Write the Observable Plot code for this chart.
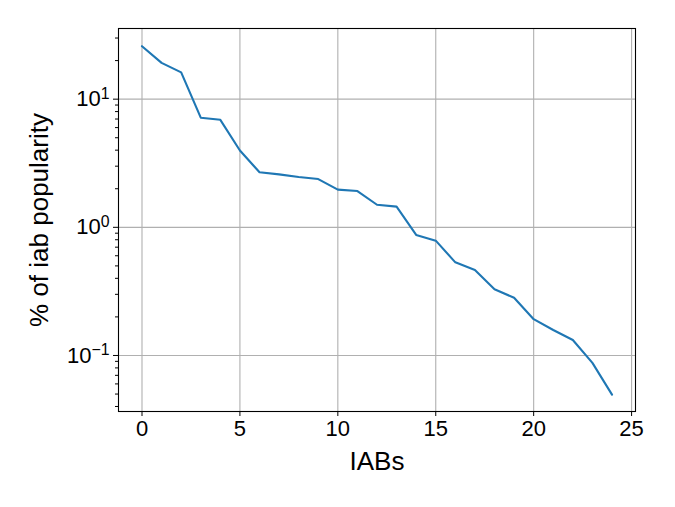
<!DOCTYPE html>
<html>
<head>
<meta charset="utf-8">
<script src="https://cdn.jsdelivr.net/npm/d3@7"></script>
<script src="https://cdn.jsdelivr.net/npm/@observablehq/plot@0.6"></script>
<style>
  html, body { margin: 0; padding: 0; background: #fff; }
</style>
</head>
<body>
<div id="chart"></div>
<script>
const iabs = [0,1,2,3,4,5,6,7,8,9,10,11,12,13,14,15,16,17,18,19,20,21,22,23,24];
const popularity = [25.9,19.2,16.2,7.17,6.9,3.98,2.69,2.59,2.47,2.38,1.97,1.92,1.50,1.45,0.873,0.787,0.533,0.465,0.329,0.282,0.192,0.158,0.132,0.0875,0.0495];
const xTicks = [0,5,10,15,20,25];
const yMajor = [0.1,1,10];
const yExponents = ["\u22121","0","1"];
const yMinor = [0.04,0.05,0.06,0.07,0.08,0.09,0.2,0.3,0.4,0.5,0.6,0.7,0.8,0.9,2,3,4,5,6,7,8,9,20,30];

const data = iabs.map((x, i) => ({x, y: popularity[i]}));
const font = "'Liberation Sans', Arial, Helvetica, sans-serif";

const chart = Plot.plot({
  width: 675,
  height: 507,
  marginLeft: 118,
  marginRight: 40,
  marginTop: 28,
  marginBottom: 96,
  style: {fontFamily: font, fontSize: "22px", color: "black", background: "white"},
  x: {domain: [-1.2, 25.2]},
  y: {type: "log", domain: [0.03655, 35.6]},
  marks: [
    Plot.gridX(xTicks, {stroke: "#b0b0b0", strokeOpacity: 1, strokeWidth: 1.1}),
    Plot.gridY(yMajor, {stroke: "#b0b0b0", strokeOpacity: 1, strokeWidth: 1.1}),
    Plot.axisX(xTicks, {tickSize: 5, tickPadding: 4, tickFormat: d => String(d), label: "IABs", labelAnchor: "center", labelArrow: "none", labelOffset: 58}),
    Plot.axisY(yMajor, {tickSize: 5, tickPadding: 4, tickFormat: d => "10", label: "% of iab popularity", labelAnchor: "center", labelArrow: "none", labelOffset: 89}),
    Plot.axisY(yMinor, {tickSize: 3, tickFormat: () => "", label: null}),
    Plot.line(data, {x: "x", y: "y", stroke: "#1f77b4", strokeWidth: 2.1}),
    Plot.frame({stroke: "black", strokeWidth: 1.1})
  ]
});
document.getElementById("chart").appendChild(chart);

// superscript exponents on the log axis (major tick labels only)
const svg = d3.select(chart);
const majorLabels = svg.select('g[aria-label="y-axis tick label"]');
majorLabels.selectAll("text").each(function(d, i) {
  const t = d3.select(this);
  t.text("10");
  t.append("tspan").attr("dy", "-0.45em").attr("font-size", "0.72em").text(yExponents[i]);
});
svg.selectAll('g[aria-label="x-axis label"], g[aria-label="y-axis label"]').attr("font-size", "26px");
</script>
</body>
</html>
